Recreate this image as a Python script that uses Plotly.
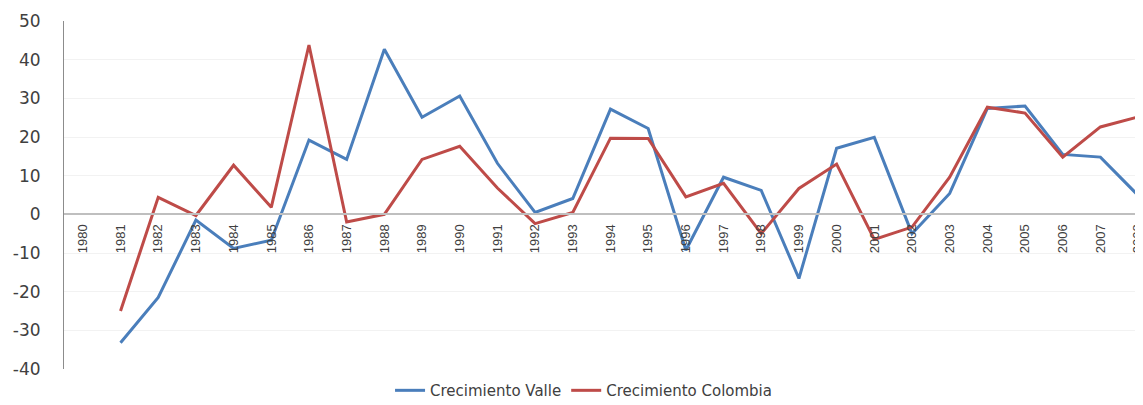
import plotly.graph_objects as go

years = list(range(1980, 2009))
year_labels = [str(y) for y in years]

valle = [None, -33.2, -21.5, -1.5, -8.8, -6.7, 19.2, 14.2, 42.7, 25.1, 30.6,
         13.2, 0.5, 4.1, 27.2, 22.2, -9.3, 9.6, 6.2, -16.6, 17.1,
         19.9, -5.0, 5.4, 27.4, 28.0, 15.5, 14.8, 4.9]
colombia = [None, -25.0, 4.4, -0.3, 12.7, 1.8, 43.8, -2.0, 0.0, 14.2, 17.6,
            6.8, -2.4, 0.5, 19.7, 19.6, 4.5, 8.0, -5.0, 6.7, 13.0,
            -6.5, -3.3, 9.6, 27.7, 26.2, 14.8, 22.6, 25.2]

y_ticks = list(range(-40, 51, 10))
y_tick_labels = [str(v) for v in y_ticks]

fig = go.Figure()
fig.add_trace(go.Scatter(x=years, y=valle, mode="lines", name="Crecimiento Valle",
                         line=dict(color="#4A7EBB", width=3)))
fig.add_trace(go.Scatter(x=years, y=colombia, mode="lines", name="Crecimiento Colombia",
                         line=dict(color="#BE4B48", width=3)))

ymin, ymax = -40, 50
fig.update_layout(
    width=1135, height=397,
    margin=dict(l=56, r=0, t=13, b=36, autoexpand=False),
    paper_bgcolor="white", plot_bgcolor="white",
    showlegend=True,
    legend=dict(orientation="h", x=0.4815, xanchor="center", y=-0.062, yanchor="middle",
                font=dict(family="DejaVu Sans", size=15, color="#404040"),
                tracegroupgap=0),
    xaxis=dict(
        range=[1979.5, 2008.13],
        tickmode="array", tickvals=years, ticktext=year_labels,
        tickangle=-90,
        tickfont=dict(family="Liberation Sans", size=13, color="#404040"),
        anchor="free", position=(0 - ymin) / (ymax - ymin),
        showline=True, linecolor="#BFBFBF", linewidth=1.5,
        showgrid=False, zeroline=False, ticks="", automargin=False,
        ticklabelstandoff=4, ticklabeloverflow="allow",
    ),
    yaxis=dict(
        range=[ymin, ymax], tickmode="array", tickvals=y_ticks, ticktext=y_tick_labels,
        tickfont=dict(family="DejaVu Sans", size=17, color="#404040"),
        showline=True, linecolor="#8C8C8C", linewidth=1,
        showgrid=True, gridcolor="#F2F2F2", gridwidth=1,
        zeroline=False, ticks="", ticklabelstandoff=19, automargin=False,
    ),
)

fig.write_html("out.html")
